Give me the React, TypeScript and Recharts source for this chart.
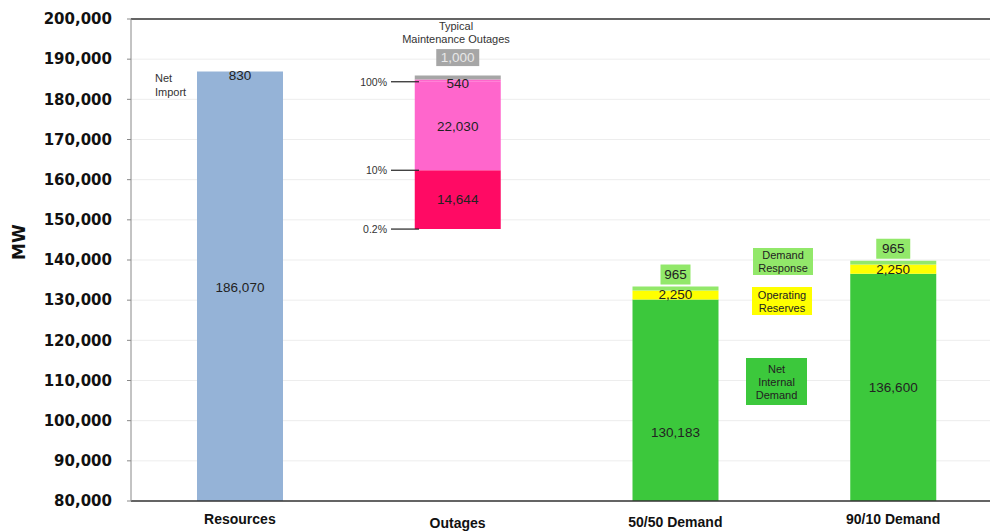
import { Bar, BarChart, CartesianGrid, Cell, LabelList, ReferenceLine, XAxis, YAxis } from 'recharts';

// categories and stacked segment values (MW)
const categories = ['Resources', 'Outages', '50/50 Demand', '90/10 Demand'];
const baseValues = [0, 147700, 0, 0];
const seg1Values = [186070, 14644, 130183, 136600];
const seg2Values = [830, 22030, 2250, 2250];
const seg3Values = [0, 540, 965, 965];
const seg4Values = [0, 1000, 0, 0];
const yTicks = [80000, 90000, 100000, 110000, 120000, 130000, 140000, 150000, 160000, 170000, 180000, 190000, 200000];
const outageMarks = [
  { label: '0.2%', value: 147700 },
  { label: '10%', value: 162344 },
  { label: '100%', value: 184374 },
];

const segValues = [seg1Values, seg2Values, seg3Values, seg4Values];
const segColors = [
  ['#95B3D7', '#FF0A64', '#3CC83C', '#3CC83C'],
  ['#95B3D7', '#FF66CC', '#FFFF00', '#FFFF00'],
  ['#95B3D7', '#FF66CC', '#92E86A', '#92E86A'],
  ['#95B3D7', '#A6A6A6', '#92E86A', '#92E86A'],
];

type Spec = { kind: 'center' | 'top' | 'box' | 'none'; dy: number; fill?: string; color?: string; w?: number; h?: number };
const N: Spec = { kind: 'none', dy: 0 };
const labelSpecs: Spec[][] = [
  [{ kind: 'center', dy: 0 }, { kind: 'center', dy: 0 }, { kind: 'center', dy: 32 }, { kind: 'center', dy: 0 }],
  [{ kind: 'top', dy: 4 }, { kind: 'center', dy: 0 }, { kind: 'center', dy: 0 }, { kind: 'center', dy: 0 }],
  [N, { kind: 'top', dy: 4 }, { kind: 'box', dy: -12, fill: '#92E86A', w: 30, h: 20 }, { kind: 'box', dy: -12, fill: '#92E86A', w: 34, h: 20 }],
  [N, { kind: 'box', dy: -18, fill: '#A6A6A6', color: '#E8E8E8', w: 43, h: 17 }, N, N],
];

const W = 1002;
const H = 532;
const PLOT_LEFT = 131;
const PLOT_TOP = 19;
const PLOT_BOTTOM = 501;
const BAND = (W - PLOT_LEFT) / categories.length;
const yPx = (v: number) => PLOT_TOP + ((200000 - v) / 120000) * (PLOT_BOTTOM - PLOT_TOP);

const data = categories.map((name, i) => ({
  name,
  base: baseValues[i],
  seg1: seg1Values[i],
  seg2: seg2Values[i],
  seg3: seg3Values[i],
  seg4: seg4Values[i],
}));

const fmt = (v: number) => v.toLocaleString('en-US');

const makeLabel = (seg: number) => (props: any) => {
  const { x, y, width, height } = props;
  const cx = Number(x) + Number(width) / 2;
  // find category from the bar's position (zero-height bars may be skipped)
  const index = Math.round((cx - PLOT_LEFT - BAND / 2) / BAND);
  const spec = labelSpecs[seg][index];
  const v = segValues[seg][index];
  if (!spec || spec.kind === 'none' || !v) return null;
  const top = Number(y);
  const bottom = Math.min(top + Number(height), PLOT_BOTTOM);
  let cy = spec.kind === 'center' ? (top + bottom) / 2 : top;
  cy += spec.dy;
  return (
    <g>
      {spec.kind === 'box' && (
        <rect x={cx - (spec.w ?? 30) / 2} y={cy - (spec.h ?? 20) / 2} width={spec.w} height={spec.h} fill={spec.fill} />
      )}
      <text x={cx} y={cy} textAnchor='middle' dominantBaseline='central' fontSize={13.5} fill={spec.color ?? '#222'}
        fontFamily="'Liberation Sans', Arial, sans-serif">
        {fmt(v)}
      </text>
    </g>
  );
};

const catDy = [0, 4, 3, 0];
const CategoryTick = (props: any) => {
  const { x, y, payload, index } = props;
  return (
    <text x={x} y={Number(y) + 15 + catDy[index]} textAnchor='middle' fontSize={14} fontWeight='bold' fill='#111'
      fontFamily="'Liberation Sans Narrow', 'Liberation Sans', Arial, sans-serif">
      {payload.value}
    </text>
  );
};

const legendBoxes = [
  { x: 753, y: 248, w: 60, h: 27, fill: '#92E86A', lines: ['Demand', 'Response'] },
  { x: 752, y: 287, w: 60, h: 28, fill: '#FFFF00', lines: ['Operating', 'Reserves'] },
  { x: 746, y: 358, w: 61, h: 47, fill: '#3CC83C', lines: ['Net', 'Internal', 'Demand'] },
];

const smallFont = "'Liberation Sans', Arial, sans-serif";

export default function App() {
  return (
    <div style={{ position: 'absolute', left: 0, top: 0, width: 990, height: H, overflow: 'hidden', background: '#fff' }}>
      <BarChart width={W} height={H} data={data} margin={{ top: PLOT_TOP, right: 0, bottom: 0, left: 0 }}>
        <CartesianGrid vertical={false} stroke='#EDEDED' />
        <XAxis dataKey='name' height={H - PLOT_BOTTOM} tick={<CategoryTick />} tickLine={false}
          axisLine={{ stroke: '#333', strokeWidth: 1.5 }} interval={0} />
        <YAxis
          width={PLOT_LEFT}
          domain={[80000, 200000]}
          ticks={yTicks}
          allowDataOverflow
          tickFormatter={fmt}
          tick={{ fontSize: 15, fontWeight: 'bold', fill: '#111', fontFamily: "'DejaVu Sans', sans-serif" }}
          tickSize={4}
          tickMargin={15}
          axisLine={{ stroke: '#888' }}
          tickLine={{ stroke: '#888' }}
          label={{ value: 'MW', angle: -90, position: 'insideLeft', dx: 14, style: { fontSize: 17, fontWeight: 'bold', fill: '#111', fontFamily: "'DejaVu Sans', sans-serif" } }}
        />
        <ReferenceLine y={200000} stroke='#333' strokeWidth={1.5} />
        <Bar dataKey='base' stackId='a' fill='transparent' barSize={86} isAnimationActive={false} />
        {['seg1', 'seg2', 'seg3', 'seg4'].map((key, s) => (
          <Bar key={key} dataKey={key} stackId='a' barSize={86} isAnimationActive={false}>
            {categories.map((c, i) => (
              <Cell key={c} fill={segColors[s][i]} />
            ))}
            <LabelList dataKey={key} content={makeLabel(s)} />
          </Bar>
        ))}
      </BarChart>

      <svg width={990} height={H} style={{ position: 'absolute', left: 0, top: 0, pointerEvents: 'none' }}>
        <text x={456} y={30} textAnchor='middle' fontSize={11} fill='#333' fontFamily={smallFont}>Typical</text>
        <text x={456} y={43} textAnchor='middle' fontSize={11} fill='#333' fontFamily={smallFont}>Maintenance Outages</text>
        <text x={155} y={82} fontSize={11} fill='#333' fontFamily={smallFont}>Net</text>
        <text x={155} y={96} fontSize={11} fill='#333' fontFamily={smallFont}>Import</text>
        {outageMarks.map((m) => (
          <g key={m.label}>
            <text x={387} y={yPx(m.value)} textAnchor='end' dominantBaseline='central' fontSize={10.5} fill='#333' fontFamily={smallFont}>
              {m.label}
            </text>
            <line x1={391} x2={419} y1={yPx(m.value)} y2={yPx(m.value)} stroke='#222' strokeWidth={1.2} />
          </g>
        ))}
        {legendBoxes.map((b) => (
          <g key={b.lines.join(' ')}>
            <rect x={b.x} y={b.y} width={b.w} height={b.h} fill={b.fill} />
            {b.lines.map((ln, j) => (
              <text key={ln} x={b.x + b.w / 2} y={b.y + b.h / 2 + (j - (b.lines.length - 1) / 2) * 13} textAnchor='middle'
                dominantBaseline='central' fontSize={11} fill='#222' fontFamily={smallFont}>
                {ln}
              </text>
            ))}
          </g>
        ))}
      </svg>
    </div>
  );
}
